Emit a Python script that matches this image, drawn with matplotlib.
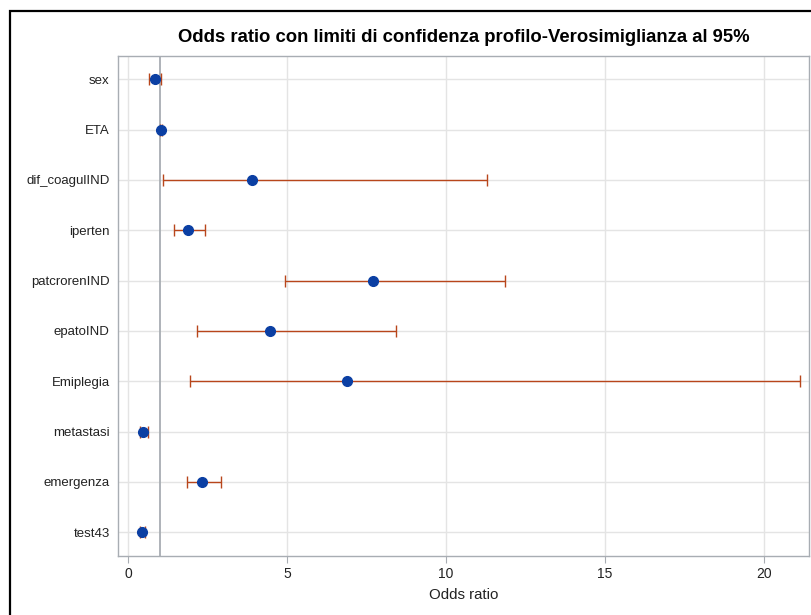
import matplotlib
matplotlib.use("Agg")
import matplotlib.pyplot as plt
from matplotlib.patches import Rectangle

plt.rcParams['font.family'] = ['Liberation Sans', 'DejaVu Sans']

# Odds ratios with 95% profile-likelihood confidence limits
variables = ["sex", "ETA", "dif_coagulIND", "iperten", "patcrorenIND",
             "epatoIND", "Emiplegia", "metastasi", "emergenza", "test43"]
odds_ratio = [0.84, 1.03, 3.91, 1.87, 7.70, 4.46, 6.89, 0.47, 2.32, 0.42]
lower_ci = [0.65, 1.01, 1.10, 1.44, 4.94, 2.18, 1.94, 0.36, 1.84, 0.36]
upper_ci = [1.03, 1.05, 11.31, 2.42, 11.86, 8.42, 21.15, 0.64, 2.91, 0.54]
x_ticks = [0, 5, 10, 15, 20]

W, H = 811, 615
fig = plt.figure(figsize=(W / 100, H / 100), dpi=100)

# outer frame
fig.patches.append(Rectangle((9.5 / W, -0.1), 1.2, (H - 10.5) / H + 0.1,
                             transform=fig.transFigure, fill=False,
                             edgecolor='black', linewidth=1.6))

ax = fig.add_axes([118 / W, (H - 556) / H, (809 - 118) / W, 500 / H])

ypos = list(range(len(variables)))
err_lo = [o - l for o, l in zip(odds_ratio, lower_ci)]
err_hi = [u - o for o, u in zip(odds_ratio, upper_ci)]

ax.axvline(1, color='#a8adb3', linewidth=1.3, zorder=1)
ax.errorbar(odds_ratio, ypos, xerr=[err_lo, err_hi], fmt='none',
            ecolor='#b8461b', elinewidth=1.0, capsize=4.6, capthick=1.0, zorder=3)
ax.plot(odds_ratio, ypos, 'o', color='#0b3fa3', markersize=7, zorder=4)

ax.set_xlim(-0.32, 21.43)
ax.set_ylim(len(variables) - 0.53, -0.46)
ax.set_yticks(ypos)
ax.set_yticklabels(variables, fontsize=9.5, color='#222222')
ax.set_xticks(x_ticks)
ax.set_xticklabels([str(t) for t in x_ticks], fontsize=10, color='#222222')
ax.tick_params(axis='y', length=0, pad=6)
ax.tick_params(axis='x', length=5, color='#a8adb3', pad=3)
ax.grid(True, color='#e4e4e4', linewidth=1.0, zorder=0)
ax.set_axisbelow(True)
for s in ax.spines.values():
    s.set_color('#a8adb3')
    s.set_linewidth(1.0)

ax.set_xlabel("Odds ratio", fontsize=10.8, color='#222222', labelpad=5)
fig.text(464 / W, 1 - 38 / H,
         "Odds ratio con limiti di confidenza profilo-Verosimiglianza al 95%",
         fontsize=13.3, fontweight='bold', ha='center', va='center')

fig.savefig("out.png", dpi=100)
